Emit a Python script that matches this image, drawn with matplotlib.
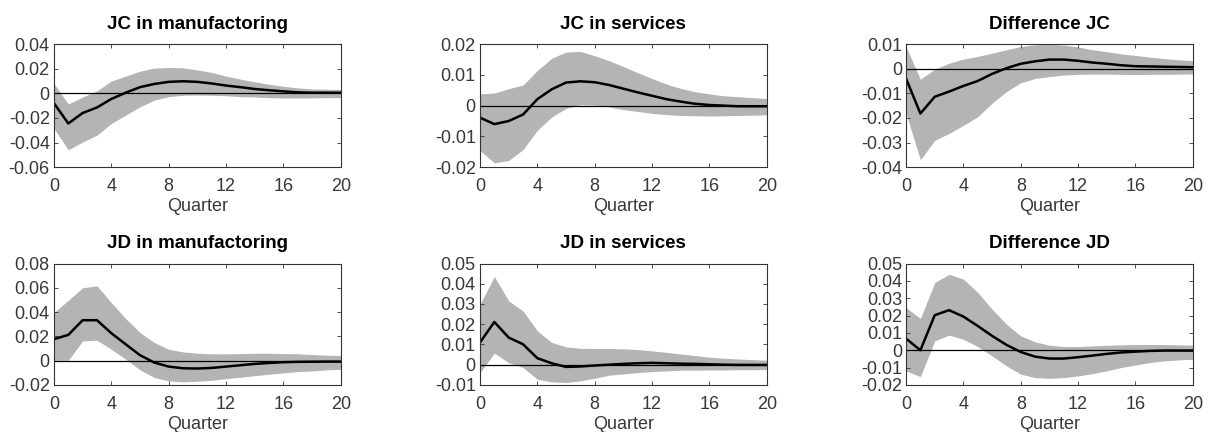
import numpy as np
import matplotlib
matplotlib.use('Agg')
import matplotlib.pyplot as plt

plt.rcParams['font.family'] = ['Liberation Sans', 'DejaVu Sans']

quarters = np.arange(21)

titles = ['JC in manufactoring', 'JC in services', 'Difference JC',
          'JD in manufactoring', 'JD in services', 'Difference JD']

# impulse responses (median)
jc_manu = [-0.008, -0.0245, -0.016, -0.0115, -0.0046, 0.0005, 0.005, 0.0076, 0.0093, 0.0098,
           0.0093, 0.008, 0.0063, 0.005, 0.0035, 0.0025, 0.0016, 0.0008, 0.0005, 0.0005, 0.0005]
jc_manu_hi = [0.008, -0.0087, -0.003, 0.002, 0.01, 0.014, 0.018, 0.0205, 0.021, 0.0207,
              0.019, 0.017, 0.014, 0.0115, 0.0093, 0.0074, 0.0057, 0.0044, 0.0035, 0.0033, 0.003]
jc_manu_lo = [-0.0286, -0.0458, -0.0395, -0.034, -0.0245, -0.0177, -0.011, -0.0055, -0.0027, -0.0016,
              -0.0014, -0.0016, -0.002, -0.0027, -0.003, -0.0035, -0.0038, -0.0038, -0.0038, -0.0035, -0.0035]

jc_serv = [-0.0039, -0.006, -0.005, -0.0029, 0.0021, 0.0053, 0.0075, 0.0079, 0.0076, 0.0067,
           0.0055, 0.0043, 0.0032, 0.0021, 0.0013, 0.0006, 0.0002, 0.0, -0.0002, -0.0002, -0.0002]
jc_serv_hi = [0.0038, 0.0041, 0.0055, 0.0067, 0.0114, 0.0154, 0.0174, 0.0176, 0.0162, 0.0146,
              0.0127, 0.0107, 0.0088, 0.007, 0.0056, 0.0045, 0.0038, 0.0032, 0.0029, 0.0026, 0.0023]
jc_serv_lo = [-0.0146, -0.0186, -0.0178, -0.0143, -0.008, -0.0037, -0.0009, 0.0003, 0.0002, -0.0004,
              -0.0013, -0.0019, -0.0025, -0.0029, -0.0032, -0.0033, -0.0034, -0.0033, -0.0032, -0.0031, -0.003]

jc_diff = [-0.004, -0.0182, -0.0114, -0.0093, -0.007, -0.005, -0.0021, 0.0002, 0.002, 0.003,
           0.0037, 0.0037, 0.0032, 0.0025, 0.002, 0.0014, 0.001, 0.0009, 0.0008, 0.0007, 0.0006]
jc_diff_hi = [0.009, -0.0043, -0.0002, 0.0022, 0.0039, 0.005, 0.0063, 0.0077, 0.009, 0.0097,
              0.0099, 0.0096, 0.0088, 0.0077, 0.0069, 0.006, 0.0054, 0.0047, 0.0041, 0.0036, 0.0033]
jc_diff_lo = [-0.0182, -0.037, -0.0291, -0.0263, -0.023, -0.0195, -0.014, -0.0093, -0.0057, -0.004,
              -0.0032, -0.0026, -0.0023, -0.0022, -0.0022, -0.0023, -0.0024, -0.0023, -0.0023, -0.0022, -0.0021]

jd_manu = [0.0177, 0.0212, 0.0333, 0.0333, 0.0226, 0.0135, 0.0045, -0.0016, -0.0049, -0.0063,
           -0.0065, -0.006, -0.0049, -0.0038, -0.0027, -0.0019, -0.0013, -0.001, -0.0009, -0.0008, -0.0008]
jd_manu_hi = [0.0396, 0.0497, 0.06, 0.0616, 0.0478, 0.0347, 0.0232, 0.0149, 0.0094, 0.0072,
              0.0061, 0.0056, 0.0056, 0.0058, 0.0061, 0.0061, 0.0058, 0.0056, 0.005, 0.0045, 0.0042]
jd_manu_lo = [0.0003, 0.0003, 0.0162, 0.0168, 0.0094, 0.0012, -0.0076, -0.0139, -0.0167, -0.0175,
              -0.017, -0.0162, -0.0148, -0.0137, -0.0124, -0.0112, -0.0101, -0.009, -0.0085, -0.0076, -0.0071]

jd_serv = [0.011, 0.0211, 0.0134, 0.0101, 0.0032, 0.0007, -0.0011, -0.0009, -0.0004, 0.0,
           0.0004, 0.0007, 0.0009, 0.0007, 0.0005, 0.0004, 0.0002, 0.0, -0.0001, -0.0001, -0.0001]
jd_serv_hi = [0.0299, 0.0436, 0.0315, 0.0266, 0.0167, 0.011, 0.0088, 0.0081, 0.008, 0.008,
              0.0078, 0.0075, 0.0068, 0.0061, 0.0053, 0.0045, 0.0037, 0.0032, 0.0028, 0.0025, 0.0022]
jd_serv_lo = [-0.0039, 0.0057, 0.001, -0.0014, -0.0072, -0.0085, -0.0088, -0.008, -0.0067, -0.0052,
              -0.0046, -0.0039, -0.0034, -0.0031, -0.0027, -0.0027, -0.0026, -0.0026, -0.0025, -0.0025, -0.0024]

jd_diff = [0.0067, 0.0, 0.0202, 0.0231, 0.0194, 0.014, 0.0083, 0.0031, -0.001, -0.0037,
           -0.0048, -0.0048, -0.004, -0.0031, -0.0021, -0.0013, -0.0008, -0.0004, -0.0002, -0.0002, -0.0002]
jd_diff_hi = [0.0246, 0.0183, 0.039, 0.0438, 0.041, 0.0333, 0.0237, 0.015, 0.0083, 0.0048,
              0.0029, 0.0021, 0.0021, 0.0025, 0.0029, 0.0031, 0.0033, 0.0033, 0.0033, 0.0031, 0.0029]
jd_diff_lo = [-0.0119, -0.0152, 0.0054, 0.0087, 0.0063, 0.0021, -0.0033, -0.009, -0.0138, -0.0158,
              -0.0162, -0.0158, -0.0148, -0.0135, -0.0119, -0.01, -0.0085, -0.0071, -0.0062, -0.0056, -0.0052]

medians = [jc_manu, jc_serv, jc_diff, jd_manu, jd_serv, jd_diff]
uppers = [jc_manu_hi, jc_serv_hi, jc_diff_hi, jd_manu_hi, jd_serv_hi, jd_diff_hi]
lowers = [jc_manu_lo, jc_serv_lo, jc_diff_lo, jd_manu_lo, jd_serv_lo, jd_diff_lo]

y_limits = [(-0.06, 0.04), (-0.02, 0.02), (-0.04, 0.01),
            (-0.02, 0.08), (-0.01, 0.05), (-0.02, 0.05)]
y_steps = [0.02, 0.01, 0.01, 0.02, 0.01, 0.01]

fig = plt.figure(figsize=(12.1, 4.32), dpi=100)

lefts = [0.0446, 0.3967, 0.7488]
bottoms = [0.613, 0.109]
width = 0.237
heights = [0.285, 0.281]

for i in range(6):
    r, c = divmod(i, 3)
    ax = fig.add_axes([lefts[c], bottoms[r], width, heights[r]])
    ax.fill_between(quarters, lowers[i], uppers[i], color='#b4b4b4', lw=0)
    ax.axhline(0, color='black', lw=0.9)
    ax.plot(quarters, medians[i], color='black', lw=1.8)
    lo, hi = y_limits[i]
    ax.set_xlim(0, 20)
    ax.set_ylim(lo, hi)
    ax.set_xticks(np.arange(0, 21, 4))
    yt = np.round(np.arange(lo, hi + 1e-9, y_steps[i]), 3)
    ax.set_yticks(yt)
    ax.set_yticklabels(['0' if abs(v) < 1e-9 else f'{v:.2f}' for v in yt])
    ax.tick_params(direction='in', top=True, right=True, length=3, width=0.6,
                   labelsize=13, labelcolor='#383838', color='#333333')
    ax.tick_params(axis='x', pad=8)
    ax.tick_params(axis='y', pad=3)
    for s in ax.spines.values():
        s.set_linewidth(0.8)
        s.set_color('#333333')
    ax.set_xlabel('Quarter', fontsize=13, color='#383838', labelpad=2)
    ax.set_title(titles[i], fontsize=13.5, fontweight='bold', pad=11)

fig.savefig('out.png', dpi=100)
